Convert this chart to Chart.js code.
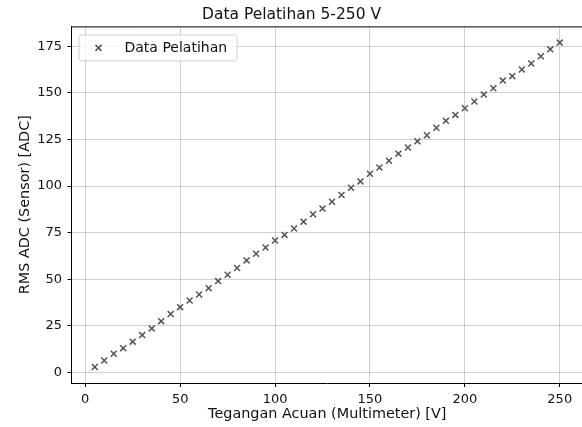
<!DOCTYPE html>
<html>
<head>
<meta charset="utf-8">
<script src="https://cdn.jsdelivr.net/npm/chart.js@4"></script>
<style>
    html, body { margin: 0; padding: 0; background: #fff; }
    #wrap { width: 582px; height: 427px; overflow: hidden; }
</style>
</head>
<body>
<div id="wrap"><canvas id="trainChart" width="600" height="427"></canvas></div>
<script>
const voltage = [5, 10, 15, 20, 25, 30, 35, 40, 45, 50,
    55, 60, 65, 70, 75, 80, 85, 90, 95, 100,
    105, 110, 115, 120, 125, 130, 135, 140, 145, 150,
    155, 160, 165, 170, 175, 180, 185, 190, 195, 200,
    205, 210, 215, 220, 225, 230, 235, 240, 245, 250];
const rmsAdc = [2.9, 6.4, 10.0, 13.0, 16.5, 20.0, 23.6, 27.5, 31.3, 35.0,
    38.6, 41.8, 45.2, 49.0, 52.4, 56.0, 60.1, 63.7, 67.0, 70.8,
    73.8, 77.2, 80.9, 84.9, 87.9, 91.6, 95.2, 99.1, 102.5, 106.6,
    110.0, 113.6, 117.4, 120.7, 124.0, 127.3, 131.3, 135.0, 138.2, 141.8,
    145.4, 149.1, 152.5, 156.6, 159.0, 162.6, 165.8, 169.7, 173.4, 177.0];
const xTicks = [0, 50, 100, 150, 200, 250];
const yTicks = [0, 25, 50, 75, 100, 125, 150, 175];
const seriesLabel = "Data Pelatihan";

const FONT = "'DejaVu Sans', sans-serif";
const markerColor = "#555555";
const gridColor = "rgba(176, 176, 176, 0.6)";

// top spine + legend box inside the plot, matplotlib style
const framePlugin = {
    id: "frame",
    afterDatasetsDraw(chart) {
        const ctx = chart.ctx;
        const area = chart.chartArea;
        ctx.save();
        ctx.strokeStyle = "#000";
        ctx.lineWidth = 1;
        ctx.beginPath();
        ctx.moveTo(area.left, area.top + 0.5);
        ctx.lineTo(area.right, area.top + 0.5);
        ctx.stroke();

        // legend
        const bx = area.left + 7, by = area.top + 8, bw = 158, bh = 26;
        ctx.beginPath();
        ctx.roundRect(bx + 0.5, by + 0.5, bw, bh, 3);
        ctx.fillStyle = "rgba(255,255,255,0.8)";
        ctx.fill();
        ctx.strokeStyle = "#d0d0d0";
        ctx.stroke();

        const mx = bx + 20, my = by + 13.5, r = 3;
        ctx.strokeStyle = markerColor;
        ctx.lineWidth = 1.5;
        ctx.beginPath();
        ctx.moveTo(mx - r, my - r); ctx.lineTo(mx + r, my + r);
        ctx.moveTo(mx - r, my + r); ctx.lineTo(mx + r, my - r);
        ctx.stroke();

        ctx.fillStyle = "#111";
        ctx.font = "14px " + FONT;
        ctx.textBaseline = "middle";
        ctx.textAlign = "left";
        ctx.fillText(seriesLabel, bx + 46, my);
        ctx.restore();
    }
};

const ctx = document.getElementById("trainChart").getContext("2d");
new Chart(ctx, {
    type: "scatter",
    data: {
        datasets: [{
            label: seriesLabel,
            data: voltage.map((v, i) => ({ x: v, y: rmsAdc[i] })),
            pointStyle: "crossRot",
            pointRadius: 4.2,
            pointBorderWidth: 1.5,
            borderColor: markerColor,
            backgroundColor: markerColor
        }]
    },
    options: {
        responsive: false,
        animation: false,
        layout: { padding: { left: 0, right: 17, top: 0, bottom: 0 } },
        plugins: {
            legend: { display: false },
            tooltip: { enabled: false },
            title: {
                display: true,
                text: "Data Pelatihan 5-250 V",
                color: "#111",
                font: { family: FONT, size: 15.5, weight: "normal" },
                padding: { top: 5.5, bottom: 2.3 }
            }
        },
        scales: {
            x: {
                type: "linear",
                min: -7.25,
                max: 262.25,
                afterFit: scale => { scale.height = 44; },
                afterBuildTicks: axis => { axis.ticks = xTicks.map(v => ({ value: v })); },
                ticks: { color: "#111", padding: 4.5, font: { family: FONT, size: 13 } },
                grid: { color: gridColor, tickColor: "#000", tickLength: 4 },
                border: { color: "#000", width: 1 },
                title: {
                    display: true,
                    text: "Tegangan Acuan (Multimeter) [V]",
                    color: "#111",
                    font: { family: FONT, size: 14.4 },
                    padding: { top: 0, bottom: 4.4 }
                }
            },
            y: {
                type: "linear",
                min: -5.7,
                max: 185.7,
                afterFit: scale => { scale.width = 71.5; },
                afterBuildTicks: axis => { axis.ticks = yTicks.map(v => ({ value: v })); },
                ticks: { color: "#111", padding: 5.5, font: { family: FONT, size: 13 } },
                grid: { color: gridColor, tickColor: "#000", tickLength: 4 },
                border: { color: "#000", width: 1 },
                title: {
                    display: true,
                    text: "RMS ADC (Sensor) [ADC]",
                    color: "#111",
                    font: { family: FONT, size: 14.4 },
                    padding: { top: 16.4, bottom: 0 }
                }
            }
        }
    },
    plugins: [framePlugin]
});
</script>
</body>
</html>
